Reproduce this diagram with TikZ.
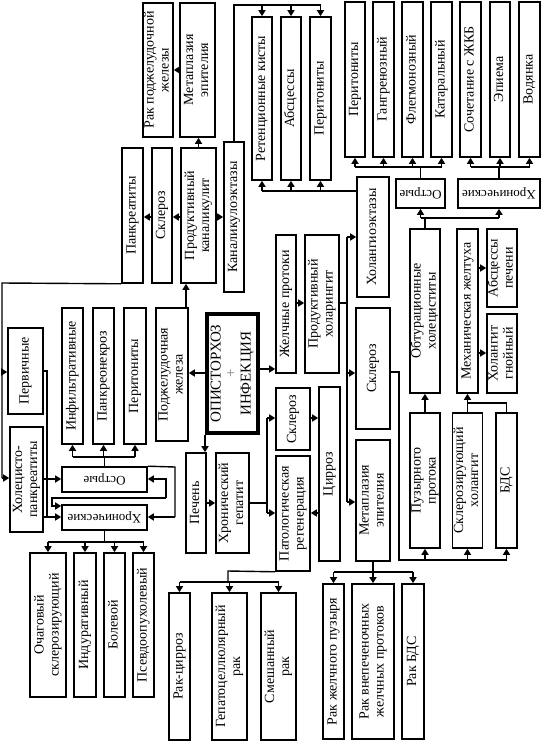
\documentclass[tikz,border=0pt]{standalone}
\usepackage{fontspec}
\setmainfont{Liberation Serif}
\usetikzlibrary{arrows.meta}
\tikzset{
  box/.style={draw, line width=1.6pt, inner sep=0pt, fill=white, font=\fontsize{14}{15}\selectfont},
  ubox/.style={box, font=\fontsize{13}{15}\selectfont},
  ln/.style={line width=1.4pt},
  arr/.style={line width=1.4pt, -{Triangle[length=6pt,width=7pt]}},
}
\newcommand\bx[7][]{\node[box,#1,minimum width={(#5-#3)*1pt},minimum height={(#6-#4)*1pt}] (#2) at ({(#3+#5)/2},{(#4+#6)/2}) {\rotatebox{90}{\begin{tabular}{@{}c@{}}#7\end{tabular}}};}
\newcommand\bxu[7][]{\node[ubox,#1,minimum width={(#5-#3)*1pt},minimum height={(#6-#4)*1pt}] (#2) at ({(#3+#5)/2},{(#4+#6)/2}) {\rotatebox{180}{#7}};}
\begin{document}
\begin{tikzpicture}[x=1pt,y=-1pt]
\useasboundingbox[fill=white] (0,0) rectangle (546,741);
% boxes
\bx{rpzh}{144}{3}{172}{137}{Рак поджелудочной\\железы}
\bx{met1}{180}{3}{215}{137}{Метаплазия\\эпителия}
\bx{pankr}{122}{148}{143}{283}{Панкреатиты}
\bx{skla}{152}{148}{172}{283}{Склероз}
\bx{pkan}{181}{148}{216}{283}{Продуктивный\\каналикулит}
\bx{kanek}{224}{142}{244}{292}{Каналикулоэктазы}
\bx{ret}{252}{17}{272}{180}{Ретенционные кисты}
\bx{absa}{281}{17}{301}{180}{Абсцессы}
\bx{pera}{310}{17}{331}{180}{Перитониты}
\bx{perb}{345}{2}{365}{157}{Перитониты}
\bx{gang}{373}{2}{394}{157}{Гангренозный}
\bx{fleg}{402}{2}{423}{157}{Флегмонозный}
\bx{kat}{431}{2}{452}{157}{Катаральный}
\bx{soch}{460}{2}{481}{157}{Сочетание с ЖКБ}
\bx{emp}{490}{2}{510}{157}{Эпиема}
\bx{vod}{519}{2}{540}{157}{Водянка}
\bxu{ostrb}{396}{179}{445}{208}{Острые}
\bxu{hronb}{458}{179}{540}{208}{Хронические}
\bx{holek}{357}{177}{389}{297}{Холангиоэктазы}
\bx{obt}{410}{229}{440}{393}{Обтурационные\\холециститы}
\bx{meh}{457}{229}{478}{393}{Механическая желтуха}
\bx{absp}{487}{229}{517}{307}{Абсцессы\\печени}
\bx{holg}{487}{314}{517}{393}{Холангит\\гнойный}
\bx{puz}{410}{413}{440}{548}{Пузырного\\протока}
\bx{sklh}{453}{413}{482}{548}{Склерозирующий\\холангит}
\bx{bds}{496}{413}{517}{548}{БДС}
\bx{sklb}{356}{308}{390}{429}{Склероз}
\bx{metb}{356}{440}{390}{561}{Метаплазия\\эпителия}
\bx{rgp}{323}{584}{344}{739}{Рак желчного пузыря}
\bx{rvp}{352}{584}{394}{739}{Рак внепеченочных\\желчных протоков}
\bx{rbds}{402}{584}{424}{739}{Рак БДС}
\bx{zhp}{276}{235}{296}{373}{Желчные протоки}
\bx{phol}{305}{235}{339}{373}{Продуктивный\\холарингит}
\bx{cirr}{319}{387}{340}{561}{Цирроз}
\bx{sklc}{276}{388}{310}{450}{Склероз}
\bx{patr}{276}{456}{310}{571}{Патологическая\\регенерация}
\bx{hrg}{216}{453}{249}{553}{Хронический\\гепатит}
\bx{pech}{186}{453}{206}{553}{Печень}
\bx{rcir}{169}{593}{190}{740}{Рак-цирроз}
\bx{gcr}{212}{593}{247}{740}{Гепатоцеллюлярный\\рак}
\bx{smr}{261}{593}{296}{740}{Смешанный\\рак}
\bx{pzh}{156}{308}{188}{441}{Поджелудочная\\железа}
\bx[line width=3.4pt,font=\fontsize{15}{15}\selectfont]{opi}{207}{314}{258}{433}{ОПИСТОРХОЗ\\{\color{gray}+}\\ИНФЕКЦИЯ}
\bx{inf}{62}{308}{83}{444}{Инфильтративные}
\bx{pnek}{93}{308}{114}{444}{Панкреонекроз}
\bx{perc}{124}{308}{146}{444}{Перитониты}
\bxu{ostra}{62}{467}{147}{492}{Острые}
\bxu{hrona}{62}{505}{147}{530}{Хронические}
\bx{perv}{8}{328}{43}{414}{Первичные}
\bx{hpan}{10}{427}{43}{532}{Холецисто-\\панкреатиты}
\bx{och}{30}{553}{66}{697}{Очаговый\\склерозирующий}
\bx{ind}{74}{553}{96}{697}{Индуративный}
\bx{bol}{104}{553}{125}{697}{Болевой}
\bx{psev}{133}{553}{154}{697}{Псевдоопухолевый}
% connectors: pancreas ducts
\draw[arr] (met1.west|-0,70) -- (rpzh.east|-0,70);
\draw[arr] (pkan.north) -- (pkan.north|-met1.south);
\draw[arr] (pkan.west|-0,217) -- (skla.east|-0,217);
\draw[arr] (skla.west|-0,217) -- (pankr.east|-0,217);
\draw[arr] (pkan.east|-0,217) -- (kanek.west|-0,217);
\draw[arr] (pzh.north-|186,0) -- (pkan.south-|186,0);
\draw[ln] (kanek.north) -- (kanek.north|-0,5) -- (pera.north|-0,5);
\foreach \n in {ret,absa,pera} \draw[arr] (\n.north|-0,5) -- (\n.north);
\draw[ln] (holek.west|-0,191) -- (ret.south|-0,191);
\foreach \n in {ret,absa,pera} \draw[arr] (\n.south|-0,191) -- (\n.south);
% gallbladder
\draw[ln] (ostrb.north) -- (ostrb.north|-0,167);
\draw[ln] (perb.south|-0,167) -- (kat.south|-0,167);
\foreach \n in {perb,gang,fleg,kat} \draw[arr] (\n.south|-0,167) -- (\n.south);
\draw[ln] (hronb.north) -- (hronb.north|-0,167);
\draw[ln] (soch.south|-0,167) -- (vod.south|-0,167);
\foreach \n in {soch,emp,vod} \draw[arr] (\n.south|-0,167) -- (\n.south);
\draw[ln] (obt.north) -- (obt.north|-0,218);
\draw[ln] (ostrb.south|-0,218) -- (hronb.south|-0,218);
\draw[arr] (ostrb.south|-0,218) -- (ostrb.south);
\draw[arr] (hronb.south|-0,218) -- (hronb.south);
\draw[arr] (meh.east|-0,268) -- (absp.west|-0,268);
\draw[arr] (meh.east|-0,353) -- (holg.west|-0,353);
\draw[arr] (puz.north) -- (puz.north|-obt.south);
\draw[arr] (sklh.north) -- (sklh.north|-meh.south);
\draw[ln] (bds.north) -- (bds.north|-0,403) -- (sklh.north|-0,403);
\draw[ln] (sklb.east|-0,372) -- (399,372) -- (399,560) -- (bds.south|-0,560);
\foreach \n in {puz,sklh,bds} \draw[arr] (\n.south|-0,560) -- (\n.south);
% bile ducts
\draw[arr] (zhp.east|-0,303) -- (phol.west|-0,303);
\draw[ln] (phol.east|-0,303) -- (347,303);
\draw[ln] (347,237) -- (347,502);
\draw[arr] (347,237) -- (holek.west|-0,237);
\draw[arr] (347,373) -- (sklb.west|-0,373);
\draw[arr] (347,502) -- (metb.west|-0,502);
\draw[ln] (metb.south) -- (metb.south|-0,572);
\draw[ln] (rgp.north|-0,572) -- (rbds.north|-0,572);
\foreach \n in {rgp,rvp,rbds} \draw[arr] (\n.north|-0,572) -- (\n.north);
% centre
\draw[arr] (opi.west|-0,373) -- (pzh.east|-0,373);
\draw[arr] (opi.east|-0,369) -- (zhp.west|-0,369);
\draw[arr] (opi.south-|205,0) -- (pech.north-|205,0);
% liver
\draw[arr] (pech.east|-0,503) -- (hrg.west|-0,503);
\draw[ln] (hrg.east|-0,503) -- (267,503);
\draw[ln] (267,418) -- (267,513);
\draw[arr] (267,418) -- (sklc.west|-0,418);
\draw[arr] (267,513) -- (patr.west|-0,513);
\draw[arr] (sklc.east|-0,418) -- (cirr.west|-0,418);
\draw[arr] (cirr.west|-0,513) -- (patr.east|-0,513);
\draw[ln] (patr.south west) -- (228,571) -- (228,582);
\draw[ln] (rcir.north|-0,582) -- (smr.north|-0,582);
\foreach \n in {rcir,gcr,smr} \draw[arr] (\n.north|-0,582) -- (\n.north);
% pancreas
\draw[ln] (ostra.north) -- (ostra.north|-0,457);
\draw[ln] (inf.south|-0,457) -- (perc.south|-0,457);
\foreach \n in {inf,pnek,perc} \draw[arr] (\n.south|-0,457) -- (\n.south);
\draw[ln] (pankr.south west) -- (2,283) -- (2,478);
\draw[arr] (2,372) -- (perv.west|-0,372);
\draw[arr] (2,478) -- (hpan.west|-0,478);
\draw[ln] (perv.east|-0,371) -- (47,371) -- (47,517);
\draw[ln] (hpan.east|-0,479) -- (47,479);
\draw[ln] (hpan.east|-0,517) -- (47,517);
\draw[arr] (47,479) -- (ostra.west|-0,479);
\draw[arr] (47,517) -- (hrona.west|-0,517);
\draw[arr] (166,498) -- (166,479) -- (ostra.east|-0,479);
\draw[arr] (166,498) -- (52,498) -- (52,506) -- (hrona.west|-0,506);
\draw[ln] (ostra.north east) -- (175,467) -- (175,517);
\draw[arr] (175,517) -- (hrona.east|-0,517);
\draw[ln] (hrona.south) -- (hrona.south|-0,542);
\draw[ln] (och.north|-0,542) -- (psev.north|-0,542);
\foreach \n in {och,ind,bol,psev} \draw[arr] (\n.north|-0,542) -- (\n.north);
\end{tikzpicture}
\end{document}
